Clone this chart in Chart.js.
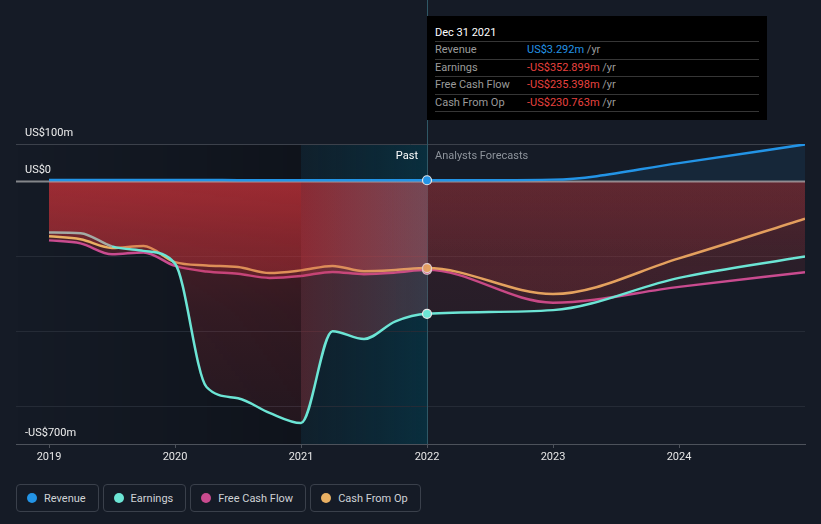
<!DOCTYPE html>
<html>
<head>
<meta charset="utf-8">
<script src="https://cdn.jsdelivr.net/npm/chart.js@4.4.1/dist/chart.umd.min.js"></script>
<style>
  html, body { margin: 0; padding: 0; background: #151b26; }
  body { width: 821px; height: 524px; overflow: hidden; font-family: Roboto, "Noto Sans", sans-serif; }
  #wrap { position: relative; width: 821px; height: 524px; }
  #chart { position: absolute; left: 0; top: 0; }
  .tip { position: absolute; left: 427px; top: 16px; width: 340px; height: 104px; background: #000;
         box-sizing: border-box; padding: 8px 8px 0 8px; font-size: 11px; color: #9b9b9b; }
  .tip .title { color: #fff; height: 17px; line-height: 17px; }
  .tip .row { border-top: 1px solid #363636; height: 16.5px; line-height: 16.5px; white-space: nowrap; }
  .tip .row.last { border-bottom: 1px solid #363636; }
  .tip .lbl { display: inline-block; width: 92px; }
  .tip .blue { color: #2394e6; }
  .tip .red { color: #e8423f; }
  .phase { position: absolute; top: 148px; font-size: 11px; line-height: 16px; }
  .past { right: 403px; color: #fff; }
  .fc { left: 435px; color: #8e949c; }
  .legend { position: absolute; left: 16px; top: 484px; display: flex; gap: 4px; }
  .legend .btn { height: 28px; box-sizing: border-box; border: 1px solid #3a404b; border-radius: 4px;
                 display: flex; align-items: center; padding: 0 12px 0 10px; font-size: 11px; color: #cfd2d6; }
  .legend .dot { width: 10px; height: 10px; border-radius: 50%; margin-right: 7px; }
</style>
</head>
<body>
<div id="wrap">
  <canvas id="chart" width="821" height="470"></canvas>
  <div class="phase past">Past</div>
  <div class="phase fc">Analysts Forecasts</div>
  <div class="tip">
    <div class="title">Dec 31 2021</div>
    <div class="row"><span class="lbl">Revenue</span><span class="blue">US$3.292m</span> /yr</div>
    <div class="row"><span class="lbl">Earnings</span><span class="red">-US$352.899m</span> /yr</div>
    <div class="row"><span class="lbl">Free Cash Flow</span><span class="red">-US$235.398m</span> /yr</div>
    <div class="row last"><span class="lbl">Cash From Op</span><span class="red">-US$230.763m</span> /yr</div>
  </div>
  <div class="legend">
    <div class="btn"><span class="dot" style="background:#2394e6"></span>Revenue</div>
    <div class="btn"><span class="dot" style="background:#6ce5d5"></span>Earnings</div>
    <div class="btn"><span class="dot" style="background:#c94b8f"></span>Free Cash Flow</div>
    <div class="btn"><span class="dot" style="background:#e9b063"></span>Cash From Op</div>
  </div>
</div>
<script>
// time axis (fractional years), quarterly history then yearly analyst forecasts
var pastDates     = [2019, 2019.25, 2019.5, 2019.75, 2020, 2020.25, 2020.5, 2020.75, 2021, 2021.25, 2021.5, 2021.75, 2022];
var forecastDates = [2023, 2024, 2025];
var yearTicks     = [2019, 2020, 2021, 2022, 2023, 2024];
var valueTicks    = [100, 0, -200, -400, -600, -700];

// US$ millions
var revenuePast      = [4, 4, 4, 4, 4, 3.8, 3.6, 3.4, 3.2, 3.2, 3.3, 3.3, 3.292];
var revenueForecast  = [5, 49, 99];
var earningsPast     = [-136, -138, -173, -185, -219, -548, -578, -617, -644, -399, -420, -373, -352.899];
var earningsForecast = [-343, -257, -200];
var fcfPast          = [-157, -165, -194, -189, -225, -240, -246, -257, -252, -241, -247, -243, -235.398];
var fcfForecast      = [-323, -281, -242];
var cfoPast          = [-146, -154, -177, -172, -215, -224, -228, -244, -237, -225, -239, -236, -230.763];
var cfoForecast      = [-300, -205, -99];

var pastEnd = 2022, highlightStart = 2021;

function points(past, forecast) {
  var dates = pastDates.concat(forecastDates);
  var vals = past.concat(forecast);
  return dates.map(function (d, i) { return {x: d, y: vals[i]}; });
}

var gradCache = {};
function vGrad(chart, key, rgb, stops) {
  var area = chart.chartArea;
  if (!area) return 'rgba(0,0,0,0)';
  var id = key + '_' + area.top + '_' + area.bottom;
  if (!gradCache[id]) {
    var y0 = chart.scales.y.getPixelForValue(0);
    var g = chart.ctx.createLinearGradient(0, y0, 0, area.bottom);
    stops.forEach(function (s) { g.addColorStop(s[0], 'rgba(' + rgb + ',' + s[1] + ')'); });
    gradCache[id] = g;
  }
  return gradCache[id];
}

// the highlighted last year of history fades from red to a greyish pink
function hGrad(chart) {
  var area = chart.chartArea;
  if (!area) return 'rgba(0,0,0,0)';
  var id = 'h_' + area.left + '_' + area.right;
  if (!gradCache[id]) {
    var xs = chart.scales.x;
    var g = chart.ctx.createLinearGradient(xs.getPixelForValue(highlightStart), 0, xs.getPixelForValue(pastEnd), 0);
    g.addColorStop(0, 'rgba(190,48,55,0.33)');
    g.addColorStop(1, 'rgba(200,92,104,0.24)');
    gradCache[id] = g;
  }
  return gradCache[id];
}

function lossFill(ctx) {
  var x = ctx.p0.parsed.x;
  if (x >= pastEnd) return vGrad(ctx.chart, 'f', '190,55,62', [[0, 0.18], [0.3, 0.13], [1, 0.07]]);
  if (x >= highlightStart) return hGrad(ctx.chart);
  return vGrad(ctx.chart, 'p', '190,48,55', [[0, 0.42], [0.2, 0.31], [0.5, 0.2], [1, 0.1]]);
}

function dotAtPastEnd(ctx) {
  return ctx.raw && ctx.raw.x === pastEnd ? 4.5 : 0;
}

function series(label, color, data, extra) {
  var ds = {
    label: label,
    data: data,
    borderColor: color,
    borderWidth: 2.5,
    fill: 'origin',
    cubicInterpolationMode: 'monotone',
    pointRadius: dotAtPastEnd,
    pointHoverRadius: 0,
    pointBackgroundColor: color,
    pointBorderColor: '#e8e8e8',
    pointBorderWidth: 1.2,
    segment: {
      backgroundColor: lossFill,
      borderColor: function () { return color; }
    }
  };
  return Object.assign(ds, extra || {});
}

var regions = {
  id: 'regions',
  beforeDraw: function (chart) {
    var c = chart.ctx, a = chart.chartArea, xs = chart.scales.x;
    var x1 = xs.getPixelForValue(highlightStart), x2 = xs.getPixelForValue(pastEnd);
    c.save();
    var g = c.createLinearGradient(a.left, 0, x1, 0);
    g.addColorStop(0, 'rgba(0,0,0,0)');
    g.addColorStop(1, 'rgba(0,0,0,0.28)');
    c.fillStyle = g;
    c.fillRect(a.left, a.top, x1 - a.left, a.bottom - a.top);
    var t = c.createLinearGradient(x1, 0, x2, 0);
    t.addColorStop(0, 'rgba(5,45,60,0.3)');
    t.addColorStop(1, 'rgba(0,63,82,0.55)');
    c.fillStyle = t;
    c.fillRect(x1, a.top, x2 - x1, a.bottom - a.top);
    c.restore();
  },
  beforeDatasetsDraw: function (chart) {
    var c = chart.ctx, a = chart.chartArea;
    var x2 = Math.round(chart.scales.x.getPixelForValue(pastEnd)) + 0.5;
    c.save();
    c.strokeStyle = '#2f5866';
    c.lineWidth = 1;
    c.beginPath();
    c.moveTo(x2, 0);
    c.lineTo(x2, a.bottom);
    c.stroke();
    c.restore();
  },
  beforeDatasetDraw: function (chart, args) {
    if (args.index !== 0) return;
    var c = chart.ctx, a = chart.chartArea;
    var y0 = chart.scales.y.getPixelForValue(0);
    c.save();
    c.strokeStyle = 'rgba(200,200,200,0.62)';
    c.lineWidth = 2;
    c.beginPath();
    c.moveTo(a.left, y0);
    c.lineTo(a.right, y0);
    c.stroke();
    c.restore();
  }
};

var ctx = document.getElementById('chart').getContext('2d');
var chart = new Chart(ctx, {
  type: 'line',
  data: {
    datasets: [
      series('Revenue', '#2394e6', points(revenuePast, revenueForecast), {
        segment: {
          backgroundColor: function (c) { return c.p0.parsed.x >= pastEnd ? 'rgba(35,148,230,0.1)' : 'rgba(35,148,230,0.05)'; },
          borderColor: function () { return '#2394e6'; }
        }
      }),
      series('Earnings', '#6ce5d5', points(earningsPast, earningsForecast), {
        segment: {
          backgroundColor: lossFill,
          borderColor: function (c) { return c.p0.parsed.x < 2019.5 ? '#a3aba5' : '#6ce5d5'; }
        }
      }),
      series('Cash From Op', '#e9b063', points(cfoPast, cfoForecast)),
      series('Free Cash Flow', '#c94b8f', points(fcfPast, fcfForecast))
    ]
  },
  options: {
    responsive: false,
    animation: false,
    events: [],
    layout: { padding: { left: 16, right: 16, top: 144, bottom: 0 } },
    plugins: { legend: { display: false }, tooltip: { enabled: false } },
    scales: {
      x: {
        type: 'linear',
        min: 2018.738,
        max: 2025,
        afterBuildTicks: function (s) { s.ticks = yearTicks.map(function (v) { return {value: v}; }); },
        afterFit: function (s) { s.height = 26; },
        border: { display: true, color: '#4d525b', width: 1 },
        grid: { drawOnChartArea: false, drawTicks: true, tickLength: 4, color: '#4d525b' },
        ticks: { color: '#e6e6e6', font: { family: 'Roboto', size: 11 }, padding: 3, maxRotation: 0,
                 callback: function (v) { return String(v); } }
      },
      y: {
        type: 'linear',
        min: -700,
        max: 100,
        afterBuildTicks: function (s) { s.ticks = valueTicks.map(function (v) { return {value: v}; }); },
        afterFit: function (s) { s.width = 0; },
        border: { display: false },
        grid: {
          drawTicks: false,
          lineWidth: 1,
          color: function (c) {
            var v = c.tick && c.tick.value;
            if (v === 100) return '#3c414b';
            if (v === 0 || v === -700) return 'rgba(0,0,0,0)';
            return '#252b36';
          }
        },
        ticks: {
          mirror: true,
          padding: 9,
          labelOffset: -11,
          color: '#eeeeee',
          font: { family: 'Roboto', size: 11 },
          callback: function (v) {
            if (v === 100) return 'US$100m';
            if (v === 0) return 'US$0';
            if (v === -700) return '-US$700m';
            return '';
          }
        }
      }
    }
  },
  plugins: [regions]
});
</script>
</body>
</html>
